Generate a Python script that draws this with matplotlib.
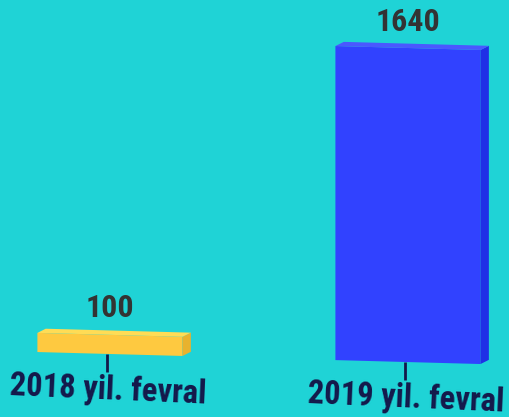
import matplotlib
matplotlib.use("Agg")
import matplotlib.pyplot as plt
from matplotlib.patches import Polygon
from matplotlib.transforms import Affine2D, ScaledTranslation
from matplotlib import font_manager as fm

categories = ["2018 yil. fevral", "2019 yil. fevral"]
values = [100, 1640]
colors = ["#fec940", "#3142ff"]
side_colors = ["#e8b22e", "#1f30e6"]
top_colors = ["#ffdc55", "#4a58ff"]

names = {f.name for f in fm.fontManager.ttflist}
family = "Roboto"
for cand in ["Roboto Condensed", "Liberation Sans Narrow", "Roboto"]:
    if cand in names:
        family = cand
        break

bg = "#1fd3d6"
W, H = 509, 417
fig = plt.figure(figsize=(W / 100, H / 100), dpi=100, facecolor=bg)
ax = fig.add_axes([0, 0, 1, 1])
ax.set_facecolor(bg)
ax.set_xlim(-0.369, 1.339)
ax.set_ylim(-329, 1848.6)
ax.axis("off")

# slight perspective shear of the whole chart (right side lower)
shear = Affine2D().translate(-110, -63).skew_deg(0, -1.55).translate(110, 63)
tr = ax.transData + shear
bw = 0.487
dx, dy = 6 / 72, 3 / 72  # depth offsets in inches

for i, (v, c, sc, tc) in enumerate(zip(values, colors, side_colors, top_colors)):
    x0, x1 = i - bw / 2, i + bw / 2
    front = Polygon([(x0, 0), (x1, 0), (x1, v), (x0, v)], closed=True,
                    facecolor=c, edgecolor="none", transform=tr, zorder=3)
    ax.add_patch(front)
    off = tr + ScaledTranslation(dx, dy, fig.dpi_scale_trans)
    p_front = tr.transform([(x1, 0), (x1, v)])
    p_back = off.transform([(x1, 0), (x1, v)])
    sidepoly = Polygon([p_front[0], p_back[0], p_back[1], p_front[1]], closed=True,
                       facecolor=sc, edgecolor="none", transform=None, zorder=2)
    fig.add_artist(sidepoly)
    t_front = tr.transform([(x0, v), (x1, v)])
    t_back = off.transform([(x0, v), (x1, v)])
    toppoly = Polygon([t_front[0], t_front[1], t_back[1], t_back[0]], closed=True,
                      facecolor=tc, edgecolor="none", transform=None, zorder=2)
    fig.add_artist(toppoly)
    # tick line
    ax.plot([i - 0.01, i - 0.01], [0, -95], color="#14184a", lw=2, transform=tr,
            zorder=4, solid_capstyle="butt")
    # value label
    ax.text(i, v + 60, f"{v}", transform=tr, ha="center", va="bottom",
            fontsize=23, fontweight="bold", color="#333333", family=family,
            zorder=5)
    # category label
    ax.text(i - 0.005, -108, categories[i], transform=tr, ha="center", va="top",
            fontsize=23.5, fontweight="bold", color="#14184a", family=family,
            rotation=-2.5, rotation_mode="anchor", zorder=5)

fig.savefig("out.png", dpi=100, facecolor=bg)
